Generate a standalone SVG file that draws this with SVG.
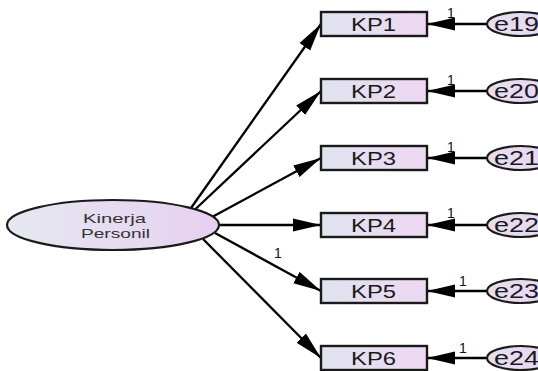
<svg xmlns="http://www.w3.org/2000/svg" width="538" height="371" viewBox="0 0 538 371">
<defs>
<linearGradient id="gBox" x1="0" y1="0" x2="1" y2="0">
<stop offset="0" stop-color="#dfe3ee"/>
<stop offset="1" stop-color="#eed8f2"/>
</linearGradient>
<linearGradient id="gLat" x1="0" y1="0" x2="1" y2="0">
<stop offset="0" stop-color="#e6e8f0"/>
<stop offset="1" stop-color="#e6d0f0"/>
</linearGradient>
<linearGradient id="gErr" x1="0" y1="0" x2="1" y2="0">
<stop offset="0" stop-color="#e4e0f0"/>
<stop offset="1" stop-color="#ead4f2"/>
</linearGradient>
<marker id="arr" markerUnits="userSpaceOnUse" markerWidth="30" markerHeight="14" refX="28" refY="7" orient="auto">
<path d="M0,0.5 L28,7 L0,13.5 z" fill="#000"/>
</marker>
</defs>
<style>
.box{fill:url(#gBox);stroke:#1a1a1a;stroke-width:2.4}
.err{fill:url(#gErr);stroke:#1a1a1a;stroke-width:2.2}
.lat{fill:url(#gLat);stroke:#1a1a1a;stroke-width:2.2}
.t{font-family:"Liberation Sans",Arial,sans-serif;font-size:18px;fill:#1a1a1a}
.te{font-family:"Liberation Sans",Arial,sans-serif;font-size:19.5px;fill:#1a1a1a}
.tl{font-family:"Liberation Sans",Arial,sans-serif;font-size:13.5px;fill:#333}
.one{font-family:"Liberation Sans",Arial,sans-serif;font-size:14px;fill:#111;text-anchor:middle}
.c{stroke:#000;stroke-width:2.3;fill:none;marker-end:url(#arr)}
</style>
<g id="connectors">
<line class="c" x1="191" y1="208" x2="321" y2="24"/>
<line class="c" x1="195" y1="209.5" x2="321" y2="91"/>
<line class="c" x1="213" y1="216.5" x2="321" y2="158"/>
<line class="c" x1="219" y1="225" x2="321" y2="225"/>
<line class="c" x1="215" y1="233" x2="321" y2="291"/>
<line class="c" x1="203" y1="239" x2="321" y2="358"/>
<line class="c" x1="487" y1="24" x2="427" y2="24"/>
<line class="c" x1="487" y1="91" x2="427" y2="91"/>
<line class="c" x1="487" y1="158" x2="427" y2="158"/>
<line class="c" x1="487" y1="225" x2="427" y2="225"/>
<line class="c" x1="487" y1="291" x2="427" y2="291"/>
<line class="c" x1="487" y1="358" x2="427" y2="358"/>
<text class="one" x="278" y="258">1</text>
<text class="one" x="451" y="18">1</text>
<text class="one" x="451" y="85">1</text>
<text class="one" x="451" y="152">1</text>
<text class="one" x="451" y="218">1</text>
<text class="one" x="463" y="286">1</text>
<text class="one" x="463" y="353">1</text>
</g>
<g id="kinerja">
<ellipse class="lat" cx="113" cy="225" rx="106" ry="25"/>
<text class="tl" x="83" y="223" textLength="63" lengthAdjust="spacingAndGlyphs">Kinerja</text>
<text class="tl" x="81" y="238" textLength="69" lengthAdjust="spacingAndGlyphs">Personil</text>
</g>
<g id="KP1"><rect class="box" x="321" y="12" width="106" height="24"/><text class="t" x="351" y="30.5" textLength="45" lengthAdjust="spacingAndGlyphs">KP1</text></g>
<g id="KP2"><rect class="box" x="321" y="79" width="106" height="24"/><text class="t" x="351" y="97.5" textLength="45" lengthAdjust="spacingAndGlyphs">KP2</text></g>
<g id="KP3"><rect class="box" x="321" y="146" width="106" height="24"/><text class="t" x="351" y="164.5" textLength="45" lengthAdjust="spacingAndGlyphs">KP3</text></g>
<g id="KP4"><rect class="box" x="321" y="213" width="106" height="24"/><text class="t" x="351" y="231.5" textLength="45" lengthAdjust="spacingAndGlyphs">KP4</text></g>
<g id="KP5"><rect class="box" x="321" y="279" width="106" height="24"/><text class="t" x="351" y="297.5" textLength="45" lengthAdjust="spacingAndGlyphs">KP5</text></g>
<g id="KP6"><rect class="box" x="321" y="346" width="106" height="24"/><text class="t" x="351" y="364.5" textLength="45" lengthAdjust="spacingAndGlyphs">KP6</text></g>
<g id="e19"><ellipse class="err" cx="521" cy="24" rx="34" ry="12"/><text class="te" x="494" y="31" textLength="45" lengthAdjust="spacingAndGlyphs">e19</text></g>
<g id="e20"><ellipse class="err" cx="521" cy="91" rx="34" ry="12"/><text class="te" x="494" y="98" textLength="45" lengthAdjust="spacingAndGlyphs">e20</text></g>
<g id="e21"><ellipse class="err" cx="521" cy="158" rx="34" ry="12"/><text class="te" x="494" y="165" textLength="45" lengthAdjust="spacingAndGlyphs">e21</text></g>
<g id="e22"><ellipse class="err" cx="521" cy="225" rx="34" ry="12"/><text class="te" x="494" y="232" textLength="45" lengthAdjust="spacingAndGlyphs">e22</text></g>
<g id="e23"><ellipse class="err" cx="521" cy="291" rx="34" ry="12"/><text class="te" x="494" y="298" textLength="45" lengthAdjust="spacingAndGlyphs">e23</text></g>
<g id="e24"><ellipse class="err" cx="521" cy="358" rx="34" ry="12"/><text class="te" x="494" y="365" textLength="45" lengthAdjust="spacingAndGlyphs">e24</text></g>
</svg>
